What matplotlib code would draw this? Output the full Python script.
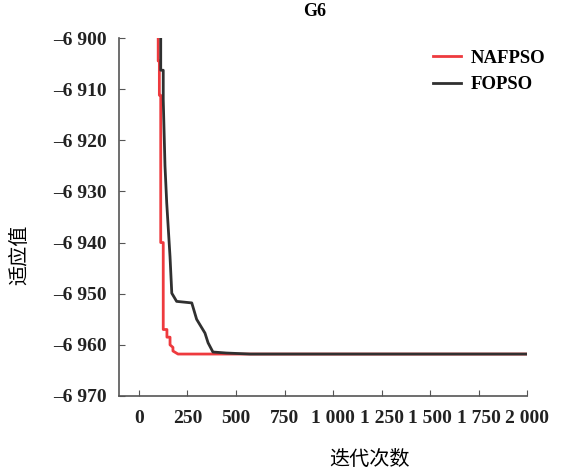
import matplotlib
matplotlib.use("Agg")
from matplotlib import pyplot as plt
from matplotlib.ticker import FuncFormatter

plt.rcParams['font.family'] = ['Liberation Serif', 'Noto Sans CJK SC', 'DejaVu Sans']

# 迭代次数 / 适应值
nafpso_x = [0, 99, 99, 105, 105, 112, 112, 125, 125, 144, 144, 160, 160, 175, 175, 201, 2000]
nafpso_y = [-6880, -6880, -6904.5, -6904.5, -6911.2, -6911.2, -6940, -6940, -6957, -6957,
            -6958.5, -6958.5, -6960, -6960.5, -6961.2, -6961.8, -6961.8]
fopso_x = [0, 112, 112, 125, 125, 134, 143, 143, 160, 160, 169, 169, 194, 272, 297, 340, 356, 381, 450, 572, 2000]
fopso_y = [-6880, -6880, -6906.3, -6906.3, -6912, -6925, -6932.3, -6932.3, -6942.8, -6942.8,
           -6949.9, -6949.9, -6951.5, -6951.8, -6955, -6957.7, -6959.6, -6961.4, -6961.6, -6961.8, -6961.8]

xticks = [0, 250, 500, 750, 1000, 1250, 1500, 1750, 2000]
yticks = [-6900, -6910, -6920, -6930, -6940, -6950, -6960, -6970]


def fmt(v, pos):
    s = "{:,}".format(int(abs(round(v)))).replace(",", " ")
    return ("\u2013" + s) if v < 0 else s


fig = plt.figure(figsize=(5.68, 4.74), dpi=100)
ax = fig.add_axes([0.2095, 0.1646, 0.7185, 0.7552])

ax.plot(nafpso_x, nafpso_y, color="#ee3a3e", lw=2, label="NAFPSO")
ax.plot(fopso_x, fopso_y, color="#303030", lw=2, label="FOPSO")

ax.set_xlim(-103, 2000)
ax.set_ylim(-6970, -6900)
ax.set_xticks(xticks)
ax.set_yticks(yticks)
ax.xaxis.set_major_formatter(FuncFormatter(fmt))
ax.yaxis.set_major_formatter(FuncFormatter(fmt))

for s in ["top", "right"]:
    ax.spines[s].set_visible(False)
for s in ["left", "bottom"]:
    ax.spines[s].set_color("#555555")
    ax.spines[s].set_linewidth(1.2)

ax.tick_params(direction="in", length=4, color="#555555", labelsize=14, pad=9)
ax.tick_params(axis="x", pad=10)
for lab in ax.get_xticklabels() + ax.get_yticklabels():
    lab.set_fontweight("bold")
    lab.set_color("#222222")

ax.set_title("G6", fontsize=13, fontweight="bold", x=0.48, pad=16)
ax.set_xlabel("迭代次数", fontsize=14.5, labelpad=17, x=0.615)
ax.set_ylabel("适应值", fontsize=14.5, labelpad=16, y=0.394)

leg = ax.legend(loc="upper right", bbox_to_anchor=(1.085, 1.015), frameon=False,
                prop={"weight": "bold", "size": 13.5}, handlelength=1.5,
                handletextpad=0.5, labelspacing=0.5)

fig.savefig("out.png", dpi=100)
